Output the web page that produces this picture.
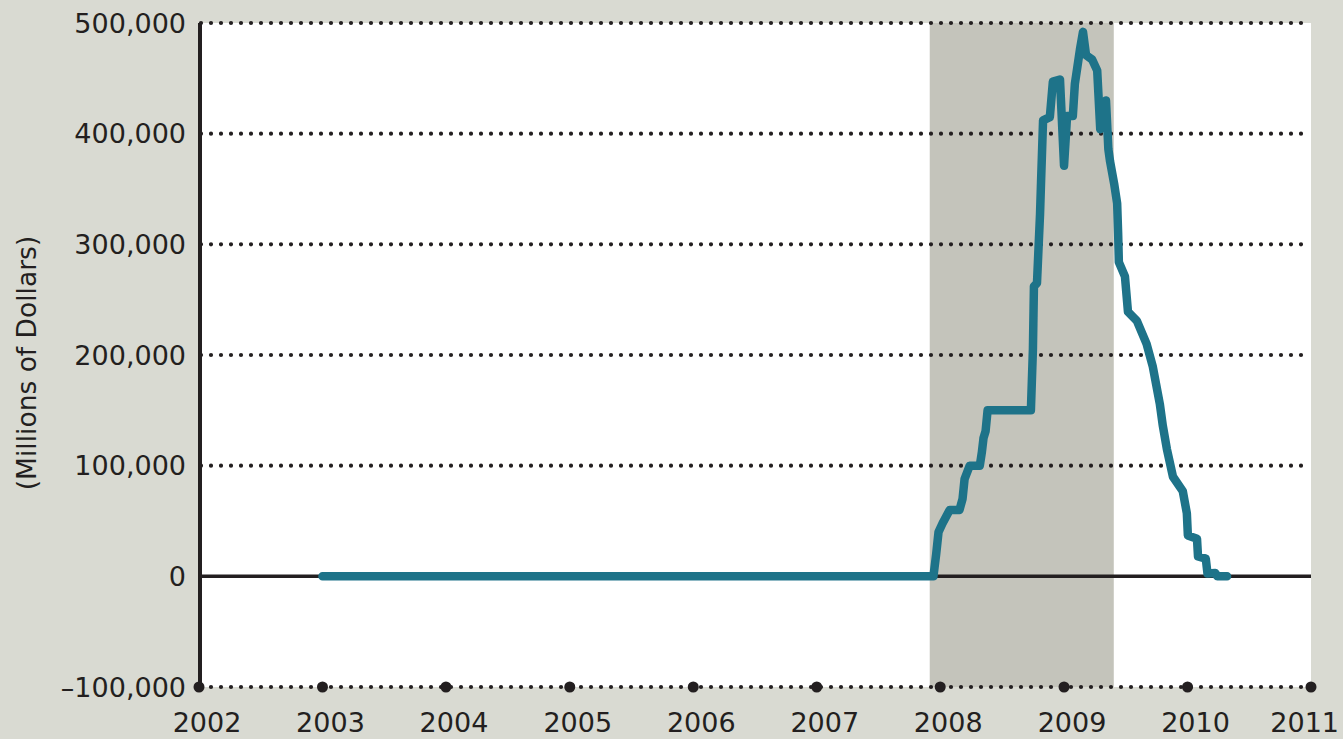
<!DOCTYPE html>
<html>
<head>
<meta charset="utf-8">
<script src="https://cdn.jsdelivr.net/npm/d3@7"></script>
<style>
  html, body { margin: 0; padding: 0; background: #d9dad2; }
  svg { display: block; }
  .tick-label { font-family: "DejaVu Sans", sans-serif; font-size: 27px; fill: #231f20; }
  .axis-title { font-family: "DejaVu Sans", sans-serif; font-size: 26.5px; fill: #231f20; }
</style>
</head>
<body>
<div id="svg-container"></div>
<script>
////////////////////////////////////////////////////////////////////
////////////////////////////  Data  ////////////////////////////////
// weekly-ish readings of the series (millions of dollars)
const dates = [
  "2003-01-01", "2007-12-12", "2007-12-20", "2007-12-27", "2008-01-08", "2008-01-29",
  "2008-02-27", "2008-03-07", "2008-03-13", "2008-03-28", "2008-04-27", "2008-05-03",
  "2008-05-08", "2008-05-14", "2008-05-20", "2008-09-25", "2008-10-01", "2008-10-04",
  "2008-10-13", "2008-10-22", "2008-10-25", "2008-10-31", "2008-11-20", "2008-11-29",
  "2008-12-20", "2009-01-01", "2009-01-10", "2009-01-27", "2009-02-02", "2009-02-17",
  "2009-02-26", "2009-03-07", "2009-03-25", "2009-04-09", "2009-04-18", "2009-04-26",
  "2009-05-05", "2009-05-12", "2009-05-17", "2009-05-29", "2009-06-07", "2009-06-10",
  "2009-06-12", "2009-06-30", "2009-07-09", "2009-08-04", "2009-09-02", "2009-09-20",
  "2009-10-11", "2009-10-20", "2009-11-01", "2009-11-19", "2009-12-18", "2009-12-30",
  "2010-01-02", "2010-01-29", "2010-02-01", "2010-02-24", "2010-03-01", "2010-03-24",
  "2010-03-30", "2010-04-28"
];
const values = [
  0, 0, 20000, 40000, 48000, 60000,
  60000, 70000, 88000, 100000, 100000, 112000,
  125000, 131000, 150000, 150000, 205000, 262000,
  265000, 327000, 356000, 412000, 415000, 447000,
  449000, 371000, 416000, 416000, 445000, 476000,
  492000, 471000, 467000, 457000, 404000, 409000,
  430000, 386000, 375000, 355000, 337000, 309000,
  284000, 271000, 239000, 231000, 210000, 190000,
  156000, 136000, 115000, 90000, 77000, 57000,
  37000, 34000, 18000, 16000, 2500, 3000,
  0, 0
];

const yTicks = [-100000, 0, 100000, 200000, 300000, 400000, 500000];
const xYears = [2002, 2003, 2004, 2005, 2006, 2007, 2008, 2009, 2010, 2011];
const recession = ["2007-12-01", "2009-05-28"];
const yTitle = "(Millions of Dollars)";

////////////////////////////////////////////////////////////////////
////////////////////////////  Init  ///////////////////////////////
const width = 1343;
const height = 739;
const margin = { top: 23, right: 32, bottom: 52, left: 199 };
const ink = "#231f20";

const svg = d3
  .select("#svg-container")
  .append("svg")
  .attr("width", width)
  .attr("height", height);

const parse = d3.timeParse("%Y-%m-%d");
const data = dates.map((d, i) => ({ date: parse(d), value: values[i] }));

// scales
const x = d3
  .scaleTime()
  .domain([new Date(2002, 0, 1), new Date(2011, 0, 1)])
  .range([margin.left, width - margin.right]);

const y = d3
  .scaleLinear()
  .domain([-100000, 500000])
  .range([height - margin.bottom, margin.top]);

// plot background
svg
  .append("rect")
  .attr("x", x.range()[0])
  .attr("y", y(500000))
  .attr("width", x.range()[1] - x.range()[0])
  .attr("height", y(-100000) - y(500000))
  .attr("fill", "#fff");

// recession band
svg
  .append("rect")
  .attr("x", x(parse(recession[0])))
  .attr("y", y(500000))
  .attr("width", x(parse(recession[1])) - x(parse(recession[0])))
  .attr("height", y(-100000) - y(500000))
  .attr("fill", "#c4c4bb");

// dotted grid
svg
  .append("g")
  .selectAll("line")
  .data(yTicks.filter((d) => d !== 0))
  .join("line")
  .attr("x1", x.range()[0] + 2)
  .attr("x2", x.range()[1] - 4)
  .attr("y1", (d) => y(d))
  .attr("y2", (d) => y(d))
  .attr("stroke", ink)
  .attr("stroke-width", 4.2)
  .attr("stroke-linecap", "round")
  .attr("stroke-dasharray", "0,10");

// year dots on bottom axis
svg
  .append("g")
  .selectAll("circle")
  .data(xYears)
  .join("circle")
  .attr("cx", (d) => x(new Date(d, 0, 1)))
  .attr("cy", y(-100000))
  .attr("r", 5.5)
  .attr("fill", ink);

// zero line
svg
  .append("line")
  .attr("x1", x.range()[0])
  .attr("x2", x.range()[1])
  .attr("y1", y(0))
  .attr("y2", y(0))
  .attr("stroke", ink)
  .attr("stroke-width", 3.5);

// y axis line
svg
  .append("line")
  .attr("x1", x.range()[0] + 1)
  .attr("x2", x.range()[0] + 1)
  .attr("y1", y(500000))
  .attr("y2", y(-100000))
  .attr("stroke", ink)
  .attr("stroke-width", 4);

// y labels
const fmt = (d) => (d < 0 ? "\u2013" : "") + d3.format(",")(Math.abs(d));
svg
  .append("g")
  .selectAll("text")
  .data(yTicks)
  .join("text")
  .attr("class", "tick-label")
  .attr("x", 186)
  .attr("y", (d) => y(d))
  .attr("dy", "0.36em")
  .attr("text-anchor", "end")
  .text(fmt);

// x labels (last one pinned to the right edge)
svg
  .append("g")
  .selectAll("text")
  .data(xYears)
  .join("text")
  .attr("class", "tick-label")
  .attr("x", (d, i) => (i === xYears.length - 1 ? width - 4 : x(new Date(d, 0, 1)) + 8))
  .attr("y", 732)
  .attr("text-anchor", (d, i) => (i === xYears.length - 1 ? "end" : "middle"))
  .text((d) => d);

// y title
svg
  .append("text")
  .attr("class", "axis-title")
  .attr("transform", `translate(36,363) rotate(-90)`)
  .attr("text-anchor", "middle")
  .text(yTitle);

// series line
const line = d3
  .line()
  .x((d) => x(d.date))
  .y((d) => y(d.value));

svg
  .append("path")
  .datum(data)
  .attr("d", line)
  .attr("fill", "none")
  .attr("stroke", "#1e7389")
  .attr("stroke-width", 8.5)
  .attr("stroke-linejoin", "round")
  .attr("stroke-linecap", "round");
</script>
</body>
</html>
